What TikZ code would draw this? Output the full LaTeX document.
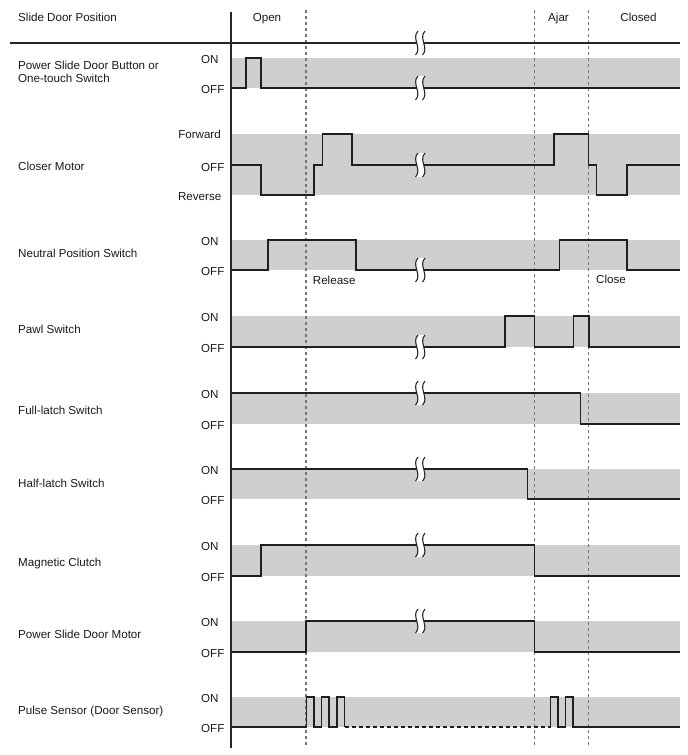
\documentclass[tikz,border=0pt]{standalone}
\usepackage{fontspec}
\setmainfont{Liberation Sans}
\newcommand\brkmark[2]{%
  \begin{scope}[shift={(#1,#2)}]
    \fill[white] (-2,-12) .. controls (-9,-5) and (2.5,5) .. (-4.5,12)
      -- (2.5,12) .. controls (9.5,5) and (-2,-5) .. (5,-12) -- cycle;
    \draw[black!85,line width=1.1pt] (-2,-12) .. controls (-9,-5) and (2.5,5) .. (-4.5,12);
    \draw[black!85,line width=1.1pt] (5,-12) .. controls (-2,-5) and (9.5,5) .. (2.5,12);
  \end{scope}}
\begin{document}
\begin{tikzpicture}[x=1pt,y=-1pt,
  txt/.style={inner sep=0pt,font=\fontsize{11.6}{13}\selectfont,text=black!90},
  lbl/.style={txt,anchor=base west},
  lvl/.style={txt,anchor=base west},
  lvlr/.style={txt,anchor=base east},
  band/.style={fill=black!19},
  sig/.style={draw=black!88,line width=1.4pt,line join=miter},
  sigdash/.style={sig,dash pattern=on 4pt off 3pt},
  grid/.style={draw=black!55,line width=1.3pt,dash pattern=on 3pt off 3pt},
  axis/.style={draw=black!85,line width=1.1pt}]
\useasboundingbox (0,0) rectangle (688,755);
% bands
\foreach \t/\b in {58/88,134/195,240/270,316/347,393/424,469/499,545/576,621/652,697/727}
  {\fill[band] (231,\t) rectangle (680,\b);}
% dashed dividers
\foreach \xx in {306,534.3,588.3}
  {\draw[grid] (\xx,10) -- (\xx,748);}
% axes
\draw[axis] (10,43) -- (680,43);
\draw[axis] (231,12) -- (231,748);
% header
\node[lbl] (hdr) at (18,21) {Slide Door Position};
\node[txt,anchor=base] (open) at (267,21) {Open};
\node[txt,anchor=base] (ajar) at (558.5,21) {Ajar};
\node[txt,anchor=base] (closed) at (638.5,21) {Closed};
% row names
\node[lbl] (n1a) at (18,69) {Power Slide Door Button or};
\node[lbl] (n1b) at (18,82) {One-touch Switch};
\node[lbl] (n2) at (18,170) {Closer Motor};
\node[lbl] (n3) at (18,257) {Neutral Position Switch};
\node[lbl] (n4) at (18,333) {Pawl Switch};
\node[lbl] (n5) at (18,414) {Full-latch Switch};
\node[lbl] (n6) at (18,487) {Half-latch Switch};
\node[lbl] (n7) at (18,566) {Magnetic Clutch};
\node[lbl] (n8) at (18,638) {Power Slide Door Motor};
\node[lbl] (n9) at (18,714) {Pulse Sensor (Door Sensor)};
% level labels
\foreach \t/\b/\k in {58/88/1,240/270/3,316/347/4,393/424/5,469/499/6,545/576/7,621/652/8,697/727/9}{
  \node[lvl] (on\k) at (201,\t+5.5) {ON};
  \node[lvl] (off\k) at (201,\b+5.5) {OFF};
}
\node[lvlr] (fwd) at (221,138.3) {Forward};
\node[lvl] (off2) at (201,171) {OFF};
\node[lvlr] (rev) at (221.5,200.7) {Reverse};
\node[lbl] (release) at (312.7,284) {Release};
\node[lbl] (close) at (596,283) {Close};
% signals
\draw[sig] (231,88) -- (246,88) -- (246,58) -- (261,58) -- (261,88) -- (680,88);
\draw[sig] (231,165) -- (261,165) -- (261,195) -- (314,195) -- (314,165) -- (322.5,165) -- (322.5,134) -- (352,134) -- (352,165) -- (554,165) -- (554,134) -- (588.5,134) -- (588.5,165) -- (596.5,165) -- (596.5,195) -- (627,195) -- (627,165) -- (680,165);
\draw[sig] (231,270) -- (268,270) -- (268,240) -- (356,240) -- (356,270) -- (559.5,270) -- (559.5,240) -- (627,240) -- (627,270) -- (680,270);
\draw[sig] (231,347) -- (505,347) -- (505,316) -- (534.3,316) -- (534.3,347) -- (573.7,347) -- (573.7,316) -- (589,316) -- (589,347) -- (680,347);
\draw[sig] (231,393) -- (580.7,393) -- (580.7,424) -- (680,424);
\draw[sig] (231,469) -- (527.3,469) -- (527.3,499) -- (680,499);
\draw[sig] (231,576) -- (261,576) -- (261,545) -- (534.7,545) -- (534.7,576) -- (680,576);
\draw[sig] (231,652) -- (306,652) -- (306,621) -- (534.7,621) -- (534.7,652) -- (680,652);
\draw[sig] (231,727) -- (306.5,727) -- (306.5,697) -- (314,697) -- (314,727) -- (321.5,727) -- (321.5,697) -- (329,697) -- (329,727) -- (337,727) -- (337,697) -- (344.5,697) -- (344.5,727);
\draw[sigdash] (344.5,727) -- (550.5,727);
\draw[sig] (550.5,727) -- (550.5,697) -- (558,697) -- (558,727) -- (565.5,727) -- (565.5,697) -- (573,697) -- (573,727) -- (680,727);
% break marks
\foreach \yy in {43,88,165,270,347,393,469,545,621}
  {\brkmark{420}{\yy}}
\end{tikzpicture}
\end{document}
